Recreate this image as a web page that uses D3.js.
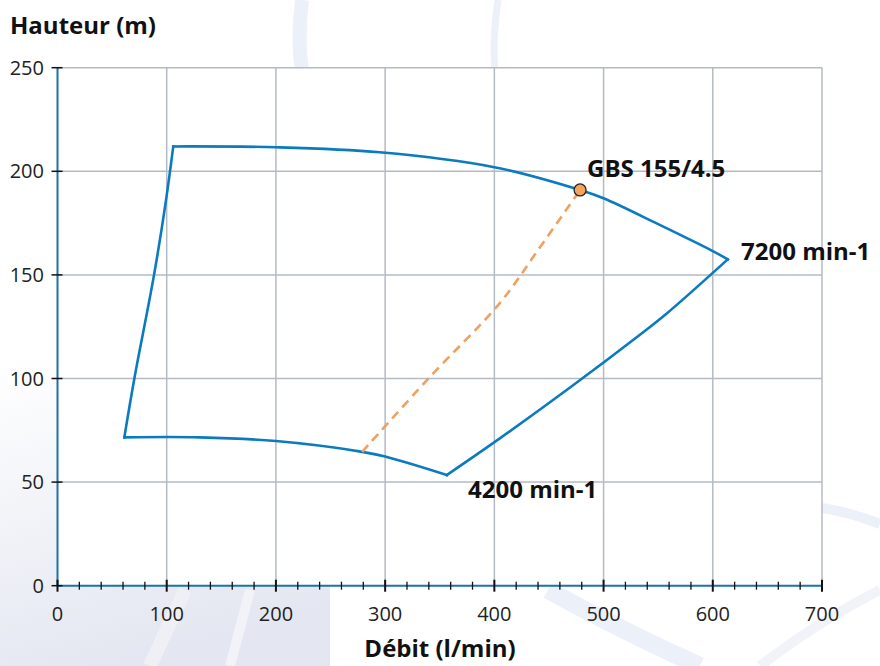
<!DOCTYPE html>
<html>
<head>
<meta charset="utf-8">
<script src="https://cdn.jsdelivr.net/npm/d3@7"></script>
<style>
  body { margin: 0; background: #fff; }
  svg { display: block; font-family: "Open Sans", "Noto Sans", sans-serif; }
</style>
</head>
<body>
<div id="chart"></div>
<script>
// curve at 7200 min-1 (top), Q in l/min, H in m
const topQ = [106, 200, 295, 400, 478.5, 500, 550, 600, 613.7]
const topH = [212, 211.6, 209.2, 202, 191, 187, 174.5, 161.5, 157.5]
// right edge, 7200 -> 4200
const rightQ = [613.7, 557, 533, 469, 405, 356.4]
const rightH = [157.5, 131, 121, 95.5, 71.1, 53.4]
// curve at 4200 min-1 (bottom)
const bottomQ = [356.4, 300, 279, 200, 130, 61.2]
const bottomH = [53.4, 62.3, 64.6, 69.8, 71.6, 71.6]
// left edge
const leftQ = [61.2, 70.3, 88.4, 99.4, 106]
const leftH = [71.6, 99.8, 150, 186.2, 212]
// system curve (dashed) and duty point
const sysQ = [279, 339.6, 405, 440, 478.5]
const sysH = [64.6, 100, 136.4, 162, 191]
const dutyQ = 478.5
const dutyH = 191
const xTicks = [0, 100, 200, 300, 400, 500, 600, 700]
const yTicks = [0, 50, 100, 150, 200, 250]

const W = 880, H = 666
const svg = d3.select("#chart").append("svg").attr("width", W).attr("height", H)

// faint background swooshes
const defs = svg.append("defs")
const grad = defs.append("linearGradient").attr("id", "bg").attr("x1", 0).attr("y1", 0).attr("x2", 0.3).attr("y2", 1)
grad.append("stop").attr("offset", "0%").attr("stop-color", "#ffffff")
grad.append("stop").attr("offset", "100%").attr("stop-color", "#e4e7f1")
svg.append("rect").attr("x", 0).attr("y", 360).attr("width", 330).attr("height", 306).attr("fill", "url(#bg)")
const swoosh = svg.append("g").attr("fill", "none").attr("stroke", "#ecf0f8")
swoosh.append("path").attr("d", "M302,0 Q297,40 302,70").attr("stroke-width", 14)
swoosh.append("path").attr("d", "M498,0 Q492,40 495,70").attr("stroke-width", 7)
swoosh.append("path").attr("d", "M822,508 Q850,512 880,524").attr("stroke-width", 10)
swoosh.append("path").attr("d", "M548,590 Q620,630 700,666").attr("stroke-width", 18)
swoosh.append("path").attr("d", "M760,666 Q820,620 880,590").attr("stroke-width", 10).attr("stroke", "#f1f3f8")
swoosh.append("path").attr("d", "M150,666 L185,590").attr("stroke-width", 14).attr("stroke", "#eef0f6")
swoosh.append("path").attr("d", "M230,666 L250,590").attr("stroke-width", 10).attr("stroke", "#f2f3f8")

const margin = { left: 57.5, top: 67.7, right: 822, bottom: 585.7 }
const x = d3.scaleLinear().domain([0, 700]).range([margin.left, margin.right])
const y = d3.scaleLinear().domain([0, 250]).range([margin.bottom, margin.top])

svg.append("rect")
  .attr("x", x(0)).attr("y", y(250))
  .attr("width", x(700) - x(0)).attr("height", y(0) - y(250))
  .attr("fill", "#fff")

// grid
const grid = svg.append("g").attr("stroke", "#b4bac4").attr("stroke-width", 1.5)
grid.selectAll("line.v").data(xTicks.slice(1)).enter().append("line")
  .attr("x1", d => x(d)).attr("x2", d => x(d)).attr("y1", y(0)).attr("y2", y(250))
grid.selectAll("line.h").data(yTicks.slice(1)).enter().append("line")
  .attr("y1", d => y(d)).attr("y2", d => y(d)).attr("x1", x(0)).attr("x2", x(700))

// axes lines
svg.append("line").attr("x1", x(0)).attr("x2", x(700)).attr("y1", y(0)).attr("y2", y(0))
  .attr("stroke", "#1d72a8").attr("stroke-width", 2)
svg.append("line").attr("x1", x(0)).attr("x2", x(0)).attr("y1", y(0)).attr("y2", y(250))
  .attr("stroke", "#1d72a8").attr("stroke-width", 2)

// x ticks: major and minor
const ticks = svg.append("g").attr("stroke", "#111").attr("stroke-width", 1.5)
ticks.selectAll("line.minor").data(d3.range(0, 701, 20)).enter().append("line")
  .attr("x1", d => x(d)).attr("x2", d => x(d))
  .attr("y1", d => y(0) - (d % 100 === 0 ? 6 : 4))
  .attr("y2", d => y(0) + (d % 100 === 0 ? 6 : 4))
  .attr("stroke-width", d => d % 100 === 0 ? 2 : 1.3)
ticks.selectAll("line.y").data(yTicks).enter().append("line")
  .attr("x1", x(0) - 6).attr("x2", x(0) + 5)
  .attr("y1", d => y(d)).attr("y2", d => y(d))

// tick labels
svg.append("g").selectAll("text").data(xTicks).enter().append("text")
  .attr("x", d => x(d)).attr("y", 621)
  .attr("text-anchor", "middle").attr("font-size", 20).attr("fill", "#222")
  .text(d => d)
svg.append("g").selectAll("text").data(yTicks).enter().append("text")
  .attr("x", 44).attr("y", d => y(d) + 7)
  .attr("text-anchor", "end").attr("font-size", 20).attr("fill", "#222")
  .text(d => d)

// envelope
const curve = d3.line().x(d => x(d[0])).y(d => y(d[1])).curve(d3.curveCatmullRom)
const edges = [[topQ, topH], [rightQ, rightH], [bottomQ, bottomH], [leftQ, leftH]]
svg.append("g").selectAll("path").data(edges).enter().append("path")
  .attr("d", e => curve(d3.zip(e[0], e[1])))
  .attr("fill", "none").attr("stroke", "#0a7bbf").attr("stroke-width", 2.6)
  .attr("stroke-linecap", "square")

// system curve
svg.append("path")
  .attr("d", curve(d3.zip(sysQ, sysH)))
  .attr("fill", "none").attr("stroke", "#f0a060").attr("stroke-width", 2.6)
  .attr("stroke-dasharray", "9,6")

svg.append("circle").attr("cx", x(dutyQ)).attr("cy", y(dutyH)).attr("r", 6)
  .attr("fill", "#f6a35c").attr("stroke", "#222").attr("stroke-width", 1.3)

// labels
const bold = (tx, ty, s, anchor) => svg.append("text").attr("x", tx).attr("y", ty)
  .attr("font-size", 24).attr("font-weight", "bold").attr("fill", "#111")
  .attr("text-anchor", anchor || "start").text(s)
bold(10, 34, "Hauteur (m)")
bold(440, 657, "Débit (l/min)", "middle")
bold(587, 177, "GBS 155/4.5")
bold(741, 260, "7200 min-1")
bold(468, 498, "4200 min-1")
</script>
</body>
</html>
